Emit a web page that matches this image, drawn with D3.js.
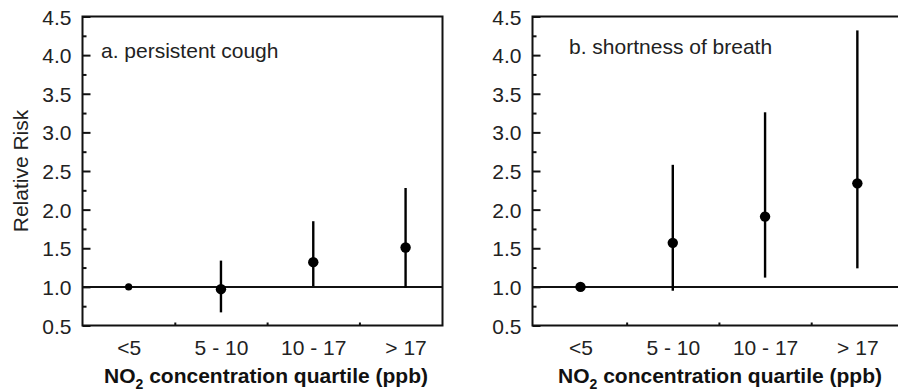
<!DOCTYPE html>
<html>
<head>
<meta charset="utf-8">
<script src="https://cdn.jsdelivr.net/npm/d3@7"></script>
<style>
body{margin:0;background:#fff;}
svg{display:block;font-family:"Liberation Sans",Arial,sans-serif;}
.tick text{font-size:21px;fill:#222;}
</style>
</head>
<body>
<svg id="chart" width="898" height="392"></svg>
<script>
var categories = ["<5", "5 - 10", "10 - 17", "> 17"];
var yTicks = [0.5, 1.0, 1.5, 2.0, 2.5, 3.0, 3.5, 4.0, 4.5];
var yMinor = [0.75, 1.25, 1.75, 2.25, 2.75, 3.25, 3.75, 4.25];
var xMinor = [1.5, 2.5, 3.5];

// a. persistent cough
var coughRR = [1.00, 0.97, 1.32, 1.51];
var coughLo = [null, 0.67, 1.01, 0.99];
var coughHi = [null, 1.34, 1.85, 2.28];

// b. shortness of breath
var breathRR = [1.00, 1.57, 1.91, 2.34];
var breathLo = [null, 0.95, 1.12, 1.24];
var breathHi = [null, 2.58, 3.26, 4.32];

var svg = d3.select("#chart");

function drawPanel(opt){
	var x = d3.scaleLinear().domain(opt.xDomain).range([opt.left, opt.right]);
	var y = d3.scaleLinear().domain([0.5, 4.5]).range([325.5, 16.5]);
	var g = svg.append("g");

	// minor y ticks
	g.append("g")
	 .attr("transform", "translate(" + opt.left + ",0)")
	 .call(d3.axisLeft(y).tickValues(yMinor).tickSize(-4).tickFormat(""))
	 .call(function(s){ s.select(".domain").remove(); })
	 .selectAll("line").attr("stroke", "#111").attr("stroke-width", 2);

	// major y ticks
	var ya = g.append("g")
	 .attr("transform", "translate(" + opt.left + ",0)")
	 .call(d3.axisLeft(y).tickValues(yTicks).tickSize(-8).tickPadding(11).tickFormat(d3.format(".1f")));
	ya.select(".domain").remove();
	ya.selectAll("line").attr("stroke", "#111").attr("stroke-width", 2);
	ya.selectAll("text").attr("dy", "0.36em");

	// x axis: minor ticks inside, labels at categories
	var xa = g.append("g")
	 .attr("transform", "translate(0,325.5)")
	 .call(d3.axisBottom(x).tickValues(xMinor).tickSize(-3).tickFormat(""));
	xa.select(".domain").remove();
	xa.selectAll("line").attr("stroke", "#111").attr("stroke-width", 2);

	var xl = g.append("g")
	 .attr("transform", "translate(0,325.5)")
	 .call(d3.axisBottom(x).tickValues([1, 2, 3, 4]).tickSize(0).tickPadding(14)
	   .tickFormat(function(d){ return categories[d - 1]; }));
	xl.select(".domain").remove();
	xl.selectAll("text").attr("dy", 0).attr("y", 29.5);

	// frame
	g.append("rect")
	 .attr("x", opt.left).attr("y", y(4.5))
	 .attr("width", opt.right - opt.left).attr("height", y(0.5) - y(4.5))
	 .attr("fill", "none").attr("stroke", "#111").attr("stroke-width", 2);

	// reference line at RR = 1
	g.append("line")
	 .attr("x1", opt.left).attr("x2", opt.right)
	 .attr("y1", y(1)).attr("y2", y(1))
	 .attr("stroke", "#111").attr("stroke-width", 2);

	var pts = opt.rr.map(function(v, i){ return {i: i + 1, v: v, lo: opt.lo[i], hi: opt.hi[i]}; });

	g.selectAll(".err").data(pts.filter(function(d){ return d.lo != null; }))
	 .enter().append("line")
	 .attr("x1", function(d){ return x(d.i); }).attr("x2", function(d){ return x(d.i); })
	 .attr("y1", function(d){ return y(d.lo); }).attr("y2", function(d){ return y(d.hi); })
	 .attr("stroke", "#000").attr("stroke-width", 2.4);

	g.selectAll(".pt").data(pts)
	 .enter().append("circle")
	 .attr("cx", function(d){ return x(d.i); })
	 .attr("cy", function(d){ return y(d.v); })
	 .attr("r", function(d, i){ return i == 0 ? opt.r0 : 5.2; })
	 .attr("fill", "#000");

	g.append("text")
	 .attr("x", opt.labelX).attr("y", opt.labelY)
	 .attr("font-size", 21).attr("fill", "#222")
	 .text(opt.label);

	var t = g.append("text")
	 .attr("x", opt.titleX).attr("y", 383)
	 .attr("text-anchor", "middle")
	 .attr("font-size", 21).attr("font-weight", "bold").attr("fill", "#111");
	t.append("tspan").text("NO");
	t.append("tspan").attr("font-size", 14).attr("dy", 6).text("2");
	t.append("tspan").attr("dy", -6).text(" concentration quartile (ppb)");
}

drawPanel({left: 82.5, right: 442.5, xDomain: [0.5, 4.4], rr: coughRR, lo: coughLo, hi: coughHi,
	r0: 3.6, label: "a. persistent cough", labelX: 101, labelY: 58, titleX: 266});
drawPanel({left: 532.5, right: 903.5, xDomain: [0.48, 4.5], rr: breathRR, lo: breathLo, hi: breathHi,
	r0: 5.2, label: "b. shortness of breath", labelX: 569, labelY: 54, titleX: 720});

svg.append("text")
   .attr("transform", "translate(28,171) rotate(-90)")
   .attr("text-anchor", "middle")
   .attr("font-size", 21).attr("fill", "#222")
   .text("Relative Risk");
</script>
</body>
</html>
